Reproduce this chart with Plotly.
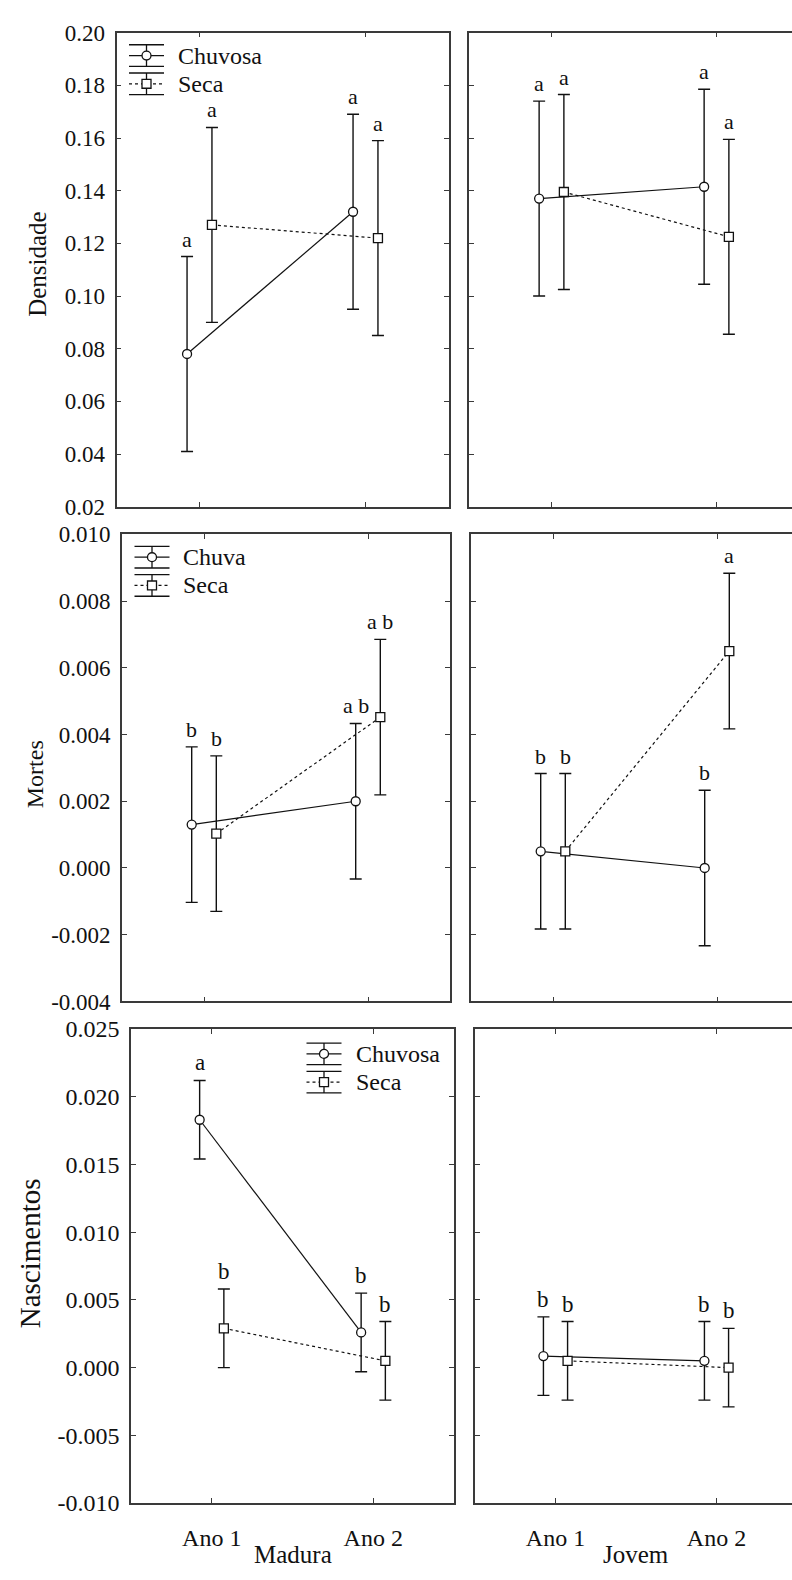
import plotly.graph_objects as go

# ---------------------------------------------------------------- data
categories = ["Ano 1", "Ano 2"]
series_names = ["Chuvosa", "Seca"]

# Densidade
dens_madura_chuvosa = [0.078, 0.132]
dens_madura_seca = [0.127, 0.122]
dens_jovem_chuvosa = [0.137, 0.1415]
dens_jovem_seca = [0.1395, 0.1225]
dens_err = [0.037, 0.037]

# Mortes
mort_madura_chuvosa = [0.0013, 0.0020]
mort_madura_seca = [0.00103, 0.00452]
mort_jovem_chuvosa = [0.0005, 0.0000]
mort_jovem_seca = [0.0005, 0.0065]
mort_err = [0.00233, 0.00233]

# Nascimentos
nasc_madura_chuvosa = [0.0183, 0.0026]
nasc_madura_seca = [0.0029, 0.0005]
nasc_jovem_chuvosa = [0.00085, 0.0005]
nasc_jovem_seca = [0.0005, 0.0000]
nasc_err = [0.0029, 0.0029]

# group letters (Tukey)
let_dens_madura_chuvosa = ["a", "a"]
let_dens_madura_seca = ["a", "a"]
let_dens_jovem_chuvosa = ["a", "a"]
let_dens_jovem_seca = ["a", "a"]
let_mort_madura_chuvosa = ["b", "a b"]
let_mort_madura_seca = ["b", "a b"]
let_mort_jovem_chuvosa = ["b", "b"]
let_mort_jovem_seca = ["b", "a"]
let_nasc_madura_chuvosa = ["a", "b"]
let_nasc_madura_seca = ["b", "b"]
let_nasc_jovem_chuvosa = ["b", "b"]
let_nasc_jovem_seca = ["b", "b"]

# y-axis ticks
dens_ticks = [0.02, 0.04, 0.06, 0.08, 0.10, 0.12, 0.14, 0.16, 0.18, 0.20]
dens_ticktext = ["0.02", "0.04", "0.06", "0.08", "0.10", "0.12", "0.14", "0.16", "0.18", "0.20"]
mort_ticks = [-0.004, -0.002, 0.0, 0.002, 0.004, 0.006, 0.008, 0.010]
mort_ticktext = ["-0.004", "-0.002", "0.000", "0.002", "0.004", "0.006", "0.008", "0.010"]
nasc_ticks = [-0.010, -0.005, 0.0, 0.005, 0.010, 0.015, 0.020, 0.025]
nasc_ticktext = ["-0.010", "-0.005", "0.000", "0.005", "0.010", "0.015", "0.020", "0.025"]

# ---------------------------------------------------------------- layout helpers
W, H = 792, 1580
FONT = "Liberation Serif, Times New Roman, Times, serif"
INK = "#111111"
AXC = "#3a3a3a"


def fx(p):
    return p / W


def fy(p):
    return 1 - p / H


# panel boxes in pixels: (left, right, top, bottom, tick spacing)
boxes = [
    (116.5, 448.5, 20, 502, 166), (469, 792, 20, 502, 165),
    (122, 450, 530, 1005, 164), (471, 792, 530, 1005, 164),
    (131, 454, 1033, 1515, 161.5), (475, 792, 1033, 1515, 161),
]

rows = [
    dict(title="Densidade", ticks=dens_ticks, ticktext=dens_ticktext, rng=[0.02, 0.20],
         err=dens_err, leg=["Chuvosa", "Seca"], tick_size=23, title_size=25, letter_size=22,
         data=[(dens_madura_chuvosa, dens_madura_seca, let_dens_madura_chuvosa, let_dens_madura_seca),
               (dens_jovem_chuvosa, dens_jovem_seca, let_dens_jovem_chuvosa, let_dens_jovem_seca)]),
    dict(title="Mortes", ticks=mort_ticks, ticktext=mort_ticktext, rng=[-0.004, 0.010],
         err=mort_err, leg=["Chuva", "Seca"], tick_size=23, title_size=24, letter_size=22,
         data=[(mort_madura_chuvosa, mort_madura_seca, let_mort_madura_chuvosa, let_mort_madura_seca),
               (mort_jovem_chuvosa, mort_jovem_seca, let_mort_jovem_chuvosa, let_mort_jovem_seca)]),
    dict(title="Nascimentos", ticks=nasc_ticks, ticktext=nasc_ticktext, rng=[-0.010, 0.025],
         err=nasc_err, leg=["Chuvosa", "Seca"], tick_size=24, title_size=29, letter_size=23,
         data=[(nasc_madura_chuvosa, nasc_madura_seca, let_nasc_madura_chuvosa, let_nasc_madura_seca),
               (nasc_jovem_chuvosa, nasc_jovem_seca, let_nasc_jovem_chuvosa, let_nasc_jovem_seca)]),
]

# y-title placement (px) and legend anchors (px): centre x, first row y, text x
ytitle_pos = [(38, 255), (35, 774), (30, 1261)]
legend_pos = [(146.5, 43.3, 176), (152, 553.3, 181), (324, 1058.3, 354)]

OFFSET = 0.075  # horizontal dodge between the two seasons

fig = go.Figure()
layout = dict(width=W, height=H, margin=dict(l=0, r=0, t=0, b=0),
              paper_bgcolor="white", plot_bgcolor="white", showlegend=False,
              font=dict(family=FONT, size=21, color=INK))
annotations = []
shapes = []

xpos = list(range(1, len(categories) + 1))

for r, row in enumerate(rows):
    for c in range(2):
        k = r * 2 + c + 1
        sfx = "" if k == 1 else str(k)
        left, right, top, bottom, spacing = boxes[k - 1]
        xr_end = 0.5 + (right - left) / spacing
        bottom_row = r == len(rows) - 1
        layout["xaxis" + sfx] = dict(
            domain=[fx(left), fx(right)], anchor="y" + sfx, range=[0.5, xr_end],
            tickvals=xpos, ticktext=categories, showticklabels=bottom_row,
            ticks="inside", ticklen=5, tickwidth=1.3, tickcolor=AXC,
            showline=True, linecolor=AXC, linewidth=1.6, mirror="allticks",
            showgrid=False, zeroline=False, ticklabelstandoff=12,
            tickfont=dict(family=FONT, size=24, color=INK))
        layout["yaxis" + sfx] = dict(
            domain=[fy(bottom), fy(top)], anchor="x" + sfx, range=row["rng"],
            tickvals=row["ticks"], ticktext=row["ticktext"], showticklabels=(c == 0),
            ticks="inside", ticklen=5, tickwidth=1.3, tickcolor=AXC,
            showline=True, linecolor=AXC, linewidth=1.6,
            mirror="allticks" if c == 0 else False,
            showgrid=False, zeroline=False, ticklabelstandoff=5,
            tickfont=dict(family=FONT, size=row["tick_size"], color=INK))

        chuv, seca, let_c, let_s = row["data"][c]
        for vals, letters, off, sym, dash in [
            (chuv, let_c, -OFFSET, "circle", "solid"),
            (seca, let_s, OFFSET, "square", "3px,3px"),
        ]:
            xs = [p + off for p in xpos]
            fig.add_trace(go.Scatter(
                x=xs, y=vals, xaxis="x" + sfx, yaxis="y" + sfx,
                mode="lines+markers",
                line=dict(color=INK, width=1.2, dash=dash),
                marker=dict(symbol=sym, size=9, color="white",
                            line=dict(color=INK, width=1.3)),
                error_y=dict(type="data", array=row["err"], visible=True,
                             color=INK, thickness=1.4, width=6),
                cliponaxis=False))
            for xv, v, e, t in zip(xs, vals, row["err"], letters):
                annotations.append(dict(
                    x=xv, y=v + e, xref="x" + sfx, yref="y" + sfx, text=t,
                    showarrow=False, yanchor="bottom", yshift=3,
                    font=dict(family=FONT, size=row["letter_size"], color=INK)))

        if bottom_row:
            annotations.append(dict(
                x=1.5, y=fy(1567), xref="x" + sfx, yref="paper",
                text=["Madura", "Jovem"][c], showarrow=False,
                xanchor="center", yanchor="middle",
                font=dict(family=FONT, size=25, color=INK)))

    # y-axis title
    tx, ty = ytitle_pos[r]
    annotations.append(dict(x=fx(tx), y=fy(ty), xref="paper", yref="paper",
                            text=row["title"], textangle=-90, showarrow=False,
                            xanchor="center", yanchor="middle",
                            font=dict(family=FONT, size=row["title_size"], color=INK)))

    # legend block with error-bar glyphs
    cx, my, tx_left = legend_pos[r]
    for i, (name, dash, kind) in enumerate([(row["leg"][0], "solid", "circle"),
                                            (row["leg"][1], "dash", "rect")]):
        y0 = my + 28.7 * i
        line = dict(color=INK, width=1.3)
        for yy in (y0 - 11, y0 + 11):
            shapes.append(dict(type="line", xref="paper", yref="paper",
                               x0=fx(cx - 17.5), x1=fx(cx + 17.5), y0=fy(yy), y1=fy(yy), line=line))
        shapes.append(dict(type="line", xref="paper", yref="paper",
                           x0=fx(cx), x1=fx(cx), y0=fy(y0 - 11), y1=fy(y0 + 11), line=line))
        shapes.append(dict(type="line", xref="paper", yref="paper",
                           x0=fx(cx - 17.5), x1=fx(cx + 17.5), y0=fy(y0), y1=fy(y0),
                           line=dict(color=INK, width=1.2, dash="solid" if dash == "solid" else "3px,3px")))
        shapes.append(dict(type=kind, xref="paper", yref="paper",
                           x0=fx(cx - 4.5), x1=fx(cx + 4.5), y0=fy(y0 - 4.5), y1=fy(y0 + 4.5),
                           fillcolor="white", line=dict(color=INK, width=1.3)))
        annotations.append(dict(x=fx(tx_left), y=fy(y0), xref="paper", yref="paper",
                                text=name, showarrow=False, xanchor="left", yanchor="middle",
                                font=dict(family=FONT, size=24, color=INK)))

layout["annotations"] = annotations
layout["shapes"] = shapes
fig.update_layout(**layout)
fig.write_html("out.html")
